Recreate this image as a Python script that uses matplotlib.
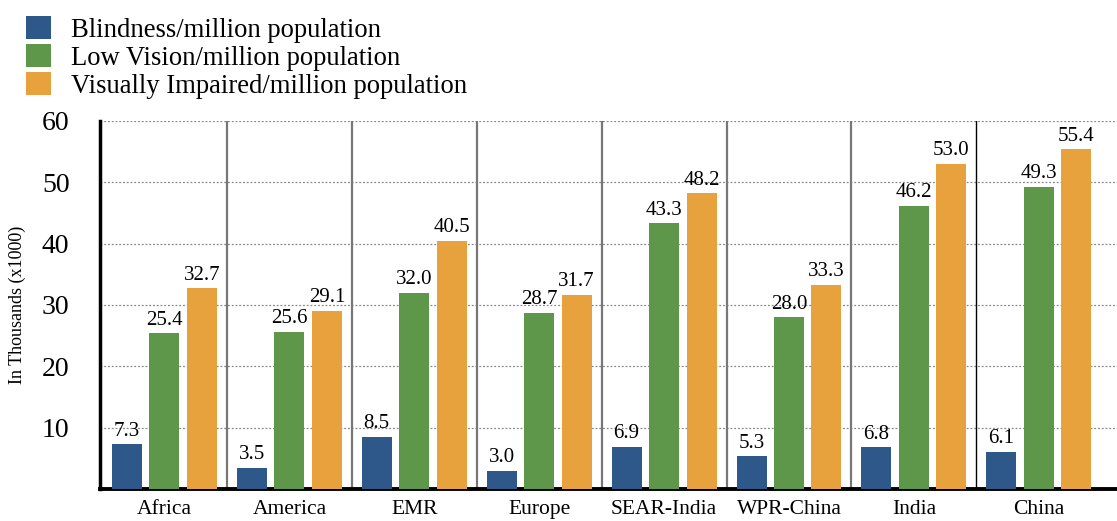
import numpy as np
import matplotlib
matplotlib.use('Agg')
import matplotlib.pyplot as plt
from matplotlib.patches import Patch

plt.rcParams['font.family'] = ['Liberation Serif', 'DejaVu Serif']

regions = ['Africa', 'America', 'EMR', 'Europe', 'SEAR-India', 'WPR-China', 'India', 'China']
blindness = [7.3, 3.5, 8.5, 3.0, 6.9, 5.3, 6.8, 6.1]
low_vision = [25.4, 25.6, 32.0, 28.7, 43.3, 28.0, 46.2, 49.3]
impaired = [32.7, 29.1, 40.5, 31.7, 48.2, 33.3, 53.0, 55.4]
series_names = ['Blindness/million population', 'Low Vision/million population',
                'Visually Impaired/million population']
colours = ['#2E588A', '#5E974A', '#E7A23D']

fig = plt.figure(figsize=(11.17, 5.21), dpi=100)
ax = fig.add_axes([100 / 1117, 32 / 521, 1017 / 1117, 368 / 521])

x = np.arange(len(regions))
width = 0.24
offsets = [-0.3, 0.0, 0.3]

handles = []
for vals, off, col, name in zip([blindness, low_vision, impaired], offsets, colours, series_names):
    bars = ax.bar(x + off, vals, width, color=col, zorder=3)
    for b, v in zip(bars, vals):
        ax.text(b.get_x() + b.get_width() / 2, v + 0.6, '%.1f' % v,
                ha='center', va='bottom', fontsize=15, zorder=4)
    handles.append(Patch(facecolor=col, label=name))

# group separators
for i in range(len(regions) - 1):
    c = 'black' if i == len(regions) - 2 else '#777777'
    lw = 1.0 if i == len(regions) - 2 else 1.6
    ax.axvline(i + 0.5, color=c, lw=lw, zorder=2)

ax.set_xlim(-0.516, 7.626)
ax.set_ylim(0, 60)
ax.set_yticks([10, 20, 30, 40, 50, 60])
ax.set_yticklabels(['10', '20', '30', '40', '50', '60'], fontsize=20)
ax.set_xticks(x)
ax.set_xticklabels(regions, fontsize=15.5)
ax.tick_params(axis='y', length=0, pad=22)
ax.tick_params(axis='x', length=0, pad=8)
ax.yaxis.grid(True, linestyle=(0, (1.5, 1.5)), color='#888888', lw=0.9, zorder=1)

for s in ['top', 'right']:
    ax.spines[s].set_visible(False)
ax.spines['left'].set_linewidth(2.5)
ax.spines['bottom'].set_linewidth(2.8)

fig.text(17 / 1117, 1 - 305 / 521, 'In Thousands (x1000)', rotation=90,
         ha='center', va='center', fontsize=13)

leg = fig.legend(handles=handles, loc='upper left', bbox_to_anchor=(26 / 1117, 1 - 16 / 521),
                 frameon=False, fontsize=19.2, handlelength=0.95, handleheight=0.95,
                 handletextpad=0.75, labelspacing=0.05, borderpad=0, borderaxespad=0)

plt.savefig('out.png', dpi=100)
